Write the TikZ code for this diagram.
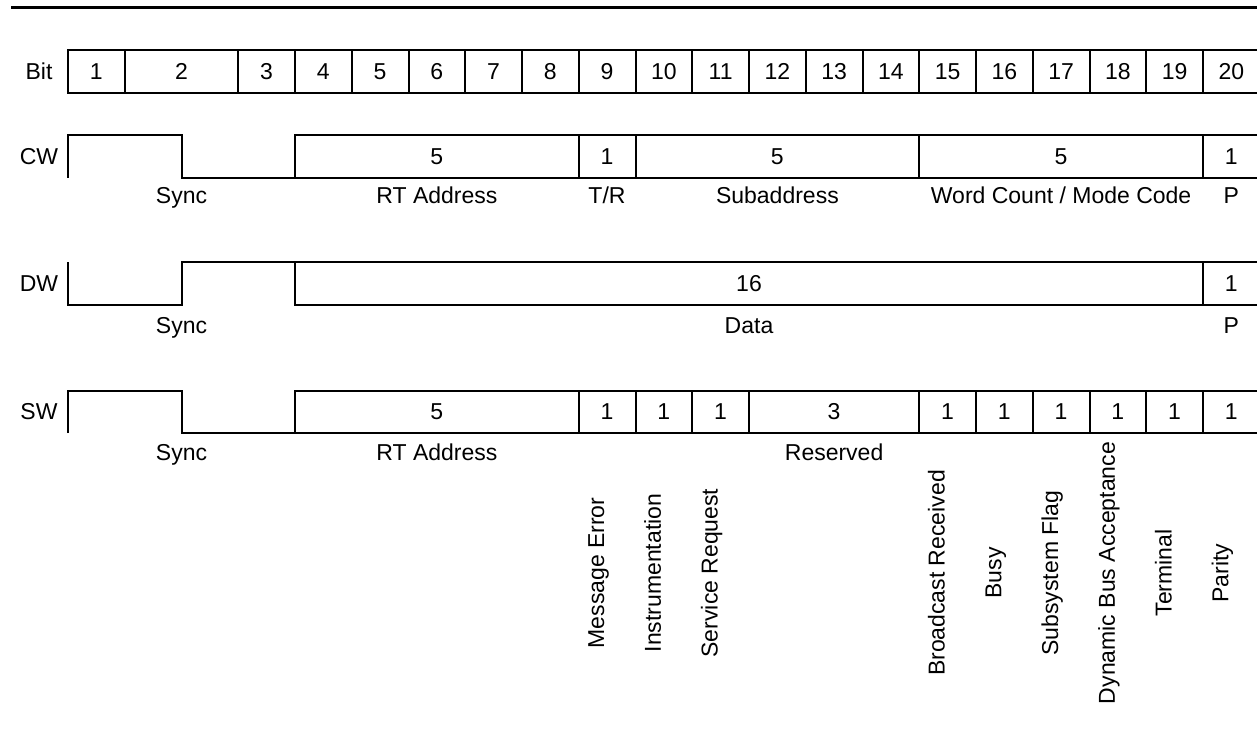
\documentclass[tikz,border=0pt]{standalone}
\usepackage{fontspec}
\setmainfont{Liberation Sans}
\newcommand\dfont{\fontsize{23}{27}\selectfont}
\newcommand\cellnode[6]{\node[cell, minimum width={(#3-#2)*1pt}] (#1) at ({(#2+#3)/2},#4) {#5#6};}
\tikzset{
  cell/.style={draw, line width=2pt, minimum height=43pt, inner sep=0pt, font=\dfont},
  lbl/.style={font=\dfont, inner sep=0pt, anchor=base},
  vlbl/.style={font=\dfont, inner sep=0pt, anchor=base, rotate=90},
  rowlbl/.style={font=\dfont, inner sep=0pt},
  wave/.style={line width=2pt},
}
\begin{document}
\begin{tikzpicture}[x=1pt,y=-1pt]
\useasboundingbox (0,0) rectangle (1257,754);
% top rule
\coordinate (ruleL) at (11,7.3);
\coordinate (ruleR) at (1260,7.3);
\draw[line width=3pt] (ruleL) -- (ruleR);

% ---------- Bit row ----------
\node[rowlbl] (lbit) at (39,71.5) {Bit};
\cellnode{b1}{68}{124.75}{71.5}{1}{}
\cellnode{b2}{124.75}{238.25}{71.5}{2}{}
\cellnode{b3}{238.25}{295}{71.5}{3}{}
\foreach \n/\a/\b in {4/295/351.75, 5/351.75/408.5, 6/408.5/465.25, 7/465.25/522,
  8/522/578.75, 9/578.75/635.5, 10/635.5/692.25, 11/692.25/749, 12/749/805.75,
  13/805.75/862.5, 14/862.5/919.25, 15/919.25/976, 16/976/1032.75,
  17/1032.75/1089.5, 18/1089.5/1146.25, 19/1146.25/1203, 20/1203/1259.75}
  {\cellnode{b\n}{\a}{\b}{71.5}{\n}{}}

% ---------- CW row ----------
\node[rowlbl] (lcw) at (39,156.5) {CW};
\coordinate (cw0) at (68,178);
\coordinate (cw1) at (68,135);
\coordinate (cw2) at (181.5,135);
\coordinate (cw3) at (181.5,178);
\coordinate (cw4) at (295,178);
\coordinate (cw5) at (295,135);
\draw[wave] (cw0) -- (cw1) -- (cw2) -- (cw3) -- (cw4) -- (cw5);
\cellnode{cwa}{295}{578.75}{156.5}{5}{}
\cellnode{cwb}{578.75}{635.5}{156.5}{1}{}
\cellnode{cwc}{635.5}{919.25}{156.5}{5}{}
\cellnode{cwd}{919.25}{1203}{156.5}{5}{}
\cellnode{cwe}{1203}{1259.75}{156.5}{1}{}
\node[lbl] (cwl1) at (181.5,204) {Sync};
\node[lbl] (cwl2) at (436.9,204) {RT Address};
\node[lbl] (cwl3) at (607,204) {T/R};
\node[lbl] (cwl4) at (777.4,204) {Subaddress};
\node[lbl] (cwl5) at (1061.1,204) {Word Count / Mode Code};
\node[lbl] (cwl6) at (1231.4,204) {P};

% ---------- DW row ----------
\node[rowlbl] (ldw) at (39,283.5) {DW};
\coordinate (dw0) at (68,262);
\coordinate (dw1) at (68,305);
\coordinate (dw2) at (181.5,305);
\coordinate (dw3) at (181.5,262);
\coordinate (dw4) at (295,262);
\coordinate (dw5) at (295,305);
\draw[wave] (dw0) -- (dw1) -- (dw2) -- (dw3) -- (dw4) -- (dw5);
\cellnode{dwa}{295}{1203}{283.5}{16}{}
\cellnode{dwb}{1203}{1259.75}{283.5}{1}{}
\node[lbl] (dwl1) at (181.5,333) {Sync};
\node[lbl] (dwl2) at (749,333) {Data};
\node[lbl] (dwl3) at (1231.4,333) {P};

% ---------- SW row ----------
\node[rowlbl] (lsw) at (39,412) {SW};
\coordinate (sw0) at (68,433);
\coordinate (sw1) at (68,391);
\coordinate (sw2) at (181.5,391);
\coordinate (sw3) at (181.5,433);
\coordinate (sw4) at (295,433);
\coordinate (sw5) at (295,391);
\draw[wave] (sw0) -- (sw1) -- (sw2) -- (sw3) -- (sw4) -- (sw5);
\tikzset{cell/.append style={minimum height=42pt}}
\cellnode{swa}{295}{578.75}{412}{5}{}
\cellnode{swb}{578.75}{635.5}{412}{1}{}
\cellnode{swc}{635.5}{692.25}{412}{1}{}
\cellnode{swd}{692.25}{749}{412}{1}{}
\cellnode{swe}{749}{919.25}{412}{3}{}
\cellnode{swf}{919.25}{976}{412}{1}{}
\cellnode{swg}{976}{1032.75}{412}{1}{}
\cellnode{swh}{1032.75}{1089.5}{412}{1}{}
\cellnode{swi}{1089.5}{1146.25}{412}{1}{}
\cellnode{swj}{1146.25}{1203}{412}{1}{}
\cellnode{swk}{1203}{1259.75}{412}{1}{}
\node[lbl] (swl1) at (181.5,460) {Sync};
\node[lbl] (swl2) at (436.9,460) {RT Address};
\node[lbl] (swl3) at (834.1,460) {Reserved};
\node[vlbl] (v9)  at (604.1,573) {Message Error};
\node[vlbl] (v10) at (660.9,573) {Instrumentation};
\node[vlbl] (v11) at (717.6,573) {Service Request};
\node[vlbl] (v15) at (944.6,573) {Broadcast Received};
\node[vlbl] (v16) at (1001.4,573) {Busy};
\node[vlbl] (v17) at (1058.1,573) {Subsystem Flag};
\node[vlbl] (v18) at (1114.9,573) {Dynamic Bus Acceptance};
\node[vlbl] (v19) at (1171.6,573) {Terminal};
\node[vlbl] (v20) at (1228.4,573) {Parity};
\end{tikzpicture}
\end{document}
